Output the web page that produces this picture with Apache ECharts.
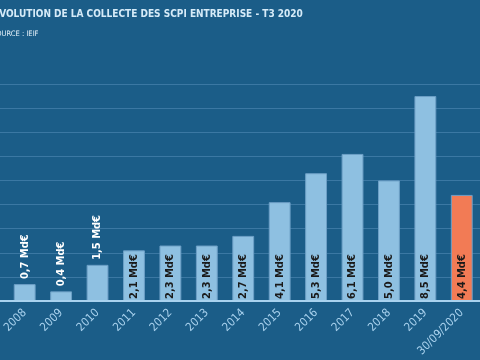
<!DOCTYPE html>
<html><head><meta charset="utf-8">
<script src="https://cdn.jsdelivr.net/npm/echarts@6/dist/echarts.min.js"></script>
<style>html,body{margin:0;padding:0;background:#1b5d88;}#c{width:480px;height:360px;}</style>
</head><body><div id="c"></div>
<script>
const categories = ['2008','2009','2010','2011','2012','2013','2014','2015','2016','2017','2018','2019','30/09/2020'];
const values = [0.7,0.4,1.5,2.1,2.3,2.3,2.7,4.1,5.3,6.1,5.0,8.5,4.4];
const labels = ['0,7 Md€','0,4 Md€','1,5 Md€','2,1 Md€','2,3 Md€','2,3 Md€','2,7 Md€','4,1 Md€','5,3 Md€','6,1 Md€','5,0 Md€','8,5 Md€','4,4 Md€'];
const titleText = 'EVOLUTION DE LA COLLECTE DES SCPI ENTREPRISE - T3 2020';
const sourceText = 'SOURCE : IEIF';
const outsideCount = 3;

const data = values.map((v,i)=>{
  const d = {value:v, itemStyle:{color: i===values.length-1 ? '#f27b55' : '#8ec0e1'}};
  if (i < outsideCount) {
    d.label = {position:'top', align:'left', verticalAlign:'middle', color:'#ffffff', distance:5};
  }
  return d;
});

const chart = echarts.init(document.getElementById('c'));
chart.setOption({
  backgroundColor:'#1b5d88',
  animation:false,
  graphic:[{
    type:'text', left:null, x:-7, y:14,
    style:{text:titleText, fill:'#d6ebf8', font:'bold 10px "DejaVu Sans Condensed"', textVerticalAlign:'middle'}
  },{
    type:'text', x:-8, y:34.5,
    style:{text:sourceText, fill:'#e6f2fa', font:'7.5px "DejaVu Sans Condensed"', textVerticalAlign:'middle'}
  }],
  grid:[
    {left:3.5, right:-4.5, top:84, bottom:59},
    {left:0, right:0, top:84, bottom:59}
  ],
  xAxis:[{
    type:'category', data:categories, gridIndex:0,
    axisLine:{show:false},
    axisTick:{show:false},
    axisLabel:{rotate:45, color:'#a9d2ee', fontSize:11.5, fontFamily:'DejaVu Sans Condensed', margin:10, interval:0}
  },{
    type:'value', gridIndex:1, min:0, max:1, z:5,
    axisLine:{show:true, lineStyle:{color:'#a9d2ee', width:2}},
    axisTick:{show:false}, axisLabel:{show:false}, splitLine:{show:false}
  }],
  yAxis:[{
    type:'value', gridIndex:0, min:0, max:9, interval:1,
    axisLabel:{show:false}, axisLine:{show:false}, axisTick:{show:false},
    splitLine:{show:false}
  },{
    type:'value', gridIndex:1, min:0, max:9, interval:1,
    axisLabel:{show:false}, axisLine:{show:false}, axisTick:{show:false},
    splitLine:{lineStyle:{color:'#3b78a3', width:1}}
  }],
  series:[{
    type:'bar', data:data, barCategoryGap:'40%', xAxisIndex:0, yAxisIndex:0,
    itemStyle:{borderColor:'#6d9fc6', borderWidth:1},
    label:{
      show:true, rotate:90, position:'insideBottom', align:'left', verticalAlign:'middle',
      distance:2, color:'#1a1a1a', fontSize:11, fontWeight:'bold', fontFamily:'DejaVu Sans Condensed',
      formatter:(p)=>labels[p.dataIndex]
    }
  }]
});
</script></body></html>
